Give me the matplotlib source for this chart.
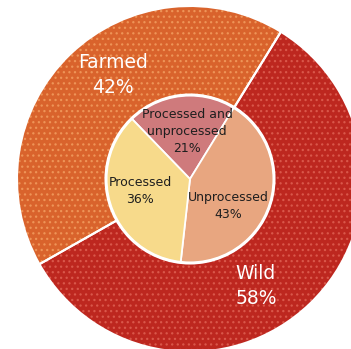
import matplotlib
matplotlib.use('Agg')
import matplotlib.pyplot as plt
from matplotlib.patches import Circle

outer_labels = ['Farmed', 'Wild']
outer_values = [42, 58]
inner_labels = ['Processed and\nunprocessed', 'Unprocessed', 'Processed']
inner_values = [21, 43, 36]

outer_colors = ['#D9632C', '#BD271F']
outer_dot_colors = ['#EE9457', '#D9574A']
inner_colors = ['#CF7A7C', '#E8A680', '#F7DA8B']

plt.rcParams['hatch.linewidth'] = 0.9
plt.rcParams['font.family'] = ['DejaVu Sans']

W, H = 351, 349
fig = plt.figure(figsize=(W / 100, H / 100), dpi=100)
ax = fig.add_axes([0, 0, 1, 1])
cx, cy = 190, 170
R_out, R_in = 173, 84
outer_start = 209.5
inner_start = 134

# outer ring: fill, dot pattern, white edges
ax.pie(outer_values, colors=outer_colors, startangle=outer_start, counterclock=False,
       radius=R_out, center=(cx, cy), wedgeprops=dict(linewidth=0))
w2, _ = ax.pie(outer_values, colors=outer_colors, startangle=outer_start, counterclock=False,
               radius=R_out, center=(cx, cy), wedgeprops=dict(fill=False, linewidth=0))
for w, c in zip(w2, outer_dot_colors):
    w.set_hatch('...')
    w.set_edgecolor(c)
    w.set_linewidth(0)
ax.pie(outer_values, startangle=outer_start, counterclock=False, radius=R_out,
       center=(cx, cy), wedgeprops=dict(fill=False, edgecolor='white', linewidth=1.5))

# inner pie
ax.pie(inner_values, colors=inner_colors, startangle=inner_start, counterclock=False,
       radius=R_in, center=(cx, cy), wedgeprops=dict(edgecolor='white', linewidth=1.3))
ax.add_patch(Circle((cx, cy), R_in, fill=False, edgecolor='white', linewidth=2.2, zorder=5))

# labels
ax.text(113, 274, f'{outer_labels[0]}\n{outer_values[0]}%', color='white', fontsize=13.5,
        ha='center', va='center', linespacing=1.45)
ax.text(256, 63, f'{outer_labels[1]}\n{outer_values[1]}%', color='white', fontsize=13.5,
        ha='center', va='center', linespacing=1.45)

inner_pos = [(187, 217), (228, 143), (140, 158)]
for (x, y), lab, v in zip(inner_pos, inner_labels, inner_values):
    ax.text(x, y, f'{lab}\n{v}%', color='#1e1e1e', fontsize=9, ha='center', va='center',
            linespacing=1.4, zorder=6)

ax.set_xlim(0, W)
ax.set_ylim(0, H)
ax.set_aspect('equal')
ax.axis('off')
fig.savefig('out.png', dpi=100)
